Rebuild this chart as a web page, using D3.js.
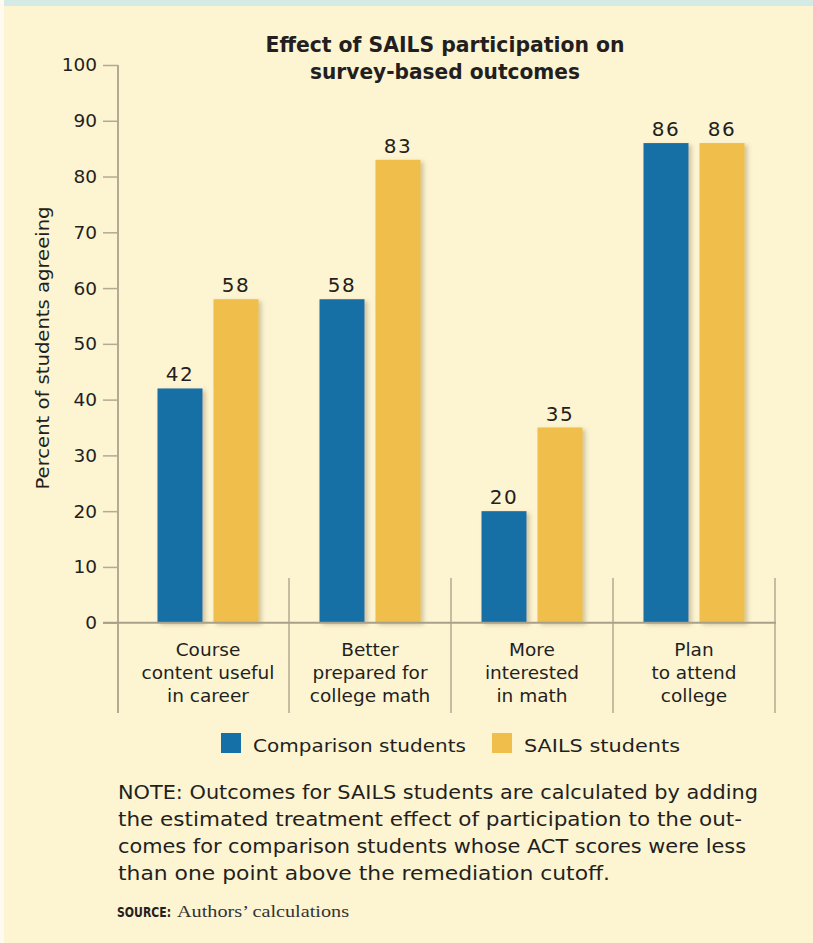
<!DOCTYPE html>
<html>
<head>
<meta charset="utf-8">
<script src="https://cdn.jsdelivr.net/npm/d3@7"></script>
<style>
  html, body { margin: 0; padding: 0; background: #fdf4d2; }
  svg { display: block; }
</style>
</head>
<body>
<svg id="chart" width="813" height="943"></svg>
<script>
// ---- Data ----
const categories = [
  ["Course", "content useful", "in career"],
  ["Better", "prepared for", "college math"],
  ["More", "interested", "in math"],
  ["Plan", "to attend", "college"]
];
const categoryKeys = ["career", "prepared", "interested", "plan"];
const seriesNames = ["Comparison students", "SAILS students"];
const comparisonValues = [42, 58, 20, 86];
const sailsValues = [58, 83, 35, 86];
const yTicks = [0, 10, 20, 30, 40, 50, 60, 70, 80, 90, 100];
const titleLines = ["Effect of SAILS participation on", "survey-based outcomes"];
const yTitle = "Percent of students agreeing";
const noteLines = [
  "NOTE: Outcomes for SAILS students are calculated by adding",
  "the estimated treatment effect of participation to the out-",
  "comes for comparison students whose ACT scores were less",
  "than one point above the remediation cutoff."
];
const sourceLabel = "SOURCE:";
const sourceText = "Authors\u2019 calculations";

// ---- Style ----
const colors = ["#1470a6", "#f0be4b"];
const ink = "#231f20";
const axisColor = "#b3aa92";
const sans = "'DejaVu Sans Condensed', 'DejaVu Sans', sans-serif";
const sansReg = "'DejaVu Sans', 'Noto Sans', sans-serif";

const svg = d3.select("#chart");

// background + top band
svg.append("rect").attr("x", 0).attr("y", 0).attr("width", 813).attr("height", 943).attr("fill", "#fdf4d2");
svg.append("rect").attr("x", 0).attr("y", 0).attr("width", 813).attr("height", 6).attr("fill", "#d4eae5");
svg.append("rect").attr("x", 0).attr("y", 0).attr("width", 4).attr("height", 943).attr("fill", "#fefaf0");

// shadow filter
const defs = svg.append("defs");
const f = defs.append("filter").attr("id", "shadow").attr("x", "-20%").attr("y", "-5%").attr("width", "150%").attr("height", "115%");
f.append("feDropShadow").attr("dx", 3).attr("dy", 2).attr("stdDeviation", 2)
  .attr("flood-color", "#7a6a40").attr("flood-opacity", 0.35);

// ---- Scales ----
const y = d3.scaleLinear().domain([0, 100]).range([622.7, 65]);
const x0 = d3.scaleBand().domain(categoryKeys).range([127, 775]).paddingInner(0).paddingOuter(0);
const x1 = d3.scaleBand().domain(seriesNames).range([0, x0.bandwidth()]).paddingInner(11 / 56).paddingOuter(0.5446);

// ---- Title ----
const titleWidths = [359, 270];
svg.append("g").selectAll("text").data(titleLines).join("text")
  .attr("x", 445).attr("y", (d, i) => 52 + i * 27)
  .attr("text-anchor", "middle")
  .attr("font-family", sans).attr("font-weight", "bold").attr("font-size", 21.5)
  .attr("fill", ink)
  .attr("textLength", (d, i) => titleWidths[i]).attr("lengthAdjust", "spacingAndGlyphs")
  .text(d => d);

// ---- Y axis ----
const yAxisG = svg.append("g").attr("transform", "translate(118,0)")
  .call(d3.axisLeft(y).tickValues(yTicks).tickSize(15).tickPadding(6).tickFormat(d3.format("d")));
yAxisG.select(".domain").remove();
yAxisG.selectAll(".tick line").attr("stroke", axisColor).attr("stroke-width", 1.5);
yAxisG.selectAll(".tick text").attr("font-family", sansReg).attr("font-size", 18.5).attr("fill", ink);
// vertical axis line
svg.append("line").attr("x1", 118).attr("x2", 118).attr("y1", y(100)).attr("y2", 713)
  .attr("stroke", axisColor).attr("stroke-width", 2);

// y title
svg.append("text")
  .attr("transform", "translate(49,348) rotate(-90)")
  .attr("text-anchor", "middle")
  .attr("font-family", sansReg).attr("font-size", 17.5).attr("fill", ink)
  .attr("textLength", 283).attr("lengthAdjust", "spacingAndGlyphs")
  .text(yTitle);

// separators between categories
svg.append("g").selectAll("line").data(categoryKeys).join("line")
  .attr("x1", d => x0(d) + x0.bandwidth()).attr("x2", d => x0(d) + x0.bandwidth())
  .attr("y1", 578).attr("y2", 713)
  .attr("stroke", axisColor).attr("stroke-width", 1.5);

// ---- Bars ----
const rows = categoryKeys.map((k, i) => ({ key: k, values: [comparisonValues[i], sailsValues[i]] }));
const groups = svg.append("g").selectAll("g").data(rows).join("g")
  .attr("transform", d => `translate(${x0(d.key)},0)`);

groups.selectAll("rect").data(d => d.values.map((v, j) => ({ s: seriesNames[j], v, j }))).join("rect")
  .attr("x", d => x1(d.s)).attr("width", x1.bandwidth())
  .attr("y", d => y(d.v)).attr("height", d => y(0) - y(d.v))
  .attr("fill", d => colors[d.j])
  .attr("filter", "url(#shadow)");

groups.selectAll("text.val").data(d => d.values.map((v, j) => ({ s: seriesNames[j], v, j }))).join("text")
  .attr("class", "val")
  .attr("x", d => x1(d.s) + x1.bandwidth() / 2).attr("y", d => y(d.v) - 7)
  .attr("text-anchor", "middle")
  .attr("font-family", sansReg).attr("font-size", 20).attr("fill", ink)
  .attr("letter-spacing", 1.5)
  .text(d => d.v);

// baseline
svg.append("line").attr("x1", 103).attr("x2", 776).attr("y1", y(0)).attr("y2", y(0))
  .attr("stroke", "#a9a089").attr("stroke-width", 2);

// ---- Category labels ----
const catG = svg.append("g").selectAll("text").data(rows).join("text")
  .attr("x", d => x0(d.key) + x0.bandwidth() / 2)
  .attr("text-anchor", "middle")
  .attr("font-family", sansReg).attr("font-size", 18.5).attr("fill", ink);
catG.selectAll("tspan").data((d, i) => categories[i]).join("tspan")
  .attr("x", function () { return d3.select(this.parentNode).attr("x"); })
  .attr("y", (d, i) => 656 + i * 23)
  .text(d => d);

// ---- Legend ----
const legendX = [221, 492];
const legendW = [213, 156];
const legend = svg.append("g").selectAll("g").data(seriesNames).join("g")
  .attr("transform", (d, i) => `translate(${legendX[i]},733)`);
legend.append("rect").attr("width", 20).attr("height", 20).attr("fill", (d, i) => colors[i]);
legend.append("text").attr("x", 32).attr("y", 19)
  .attr("font-family", sansReg).attr("font-size", 18.5).attr("fill", ink)
  .attr("textLength", (d, i) => legendW[i]).attr("lengthAdjust", "spacingAndGlyphs")
  .text(d => d);

// ---- Note ----
const noteWidths = [640, 624, 628, 492];
svg.append("g").selectAll("text").data(noteLines).join("text")
  .attr("x", 118).attr("y", (d, i) => 799 + i * 27)
  .attr("font-family", sans).attr("font-size", 19.5).attr("fill", ink)
  .attr("textLength", (d, i) => noteWidths[i]).attr("lengthAdjust", "spacingAndGlyphs")
  .text(d => d);

// ---- Source ----
svg.append("text").attr("x", 117).attr("y", 917).attr("fill", ink)
  .attr("font-family", sans).attr("font-weight", "bold").attr("font-size", 13.5)
  .attr("textLength", 54).attr("lengthAdjust", "spacingAndGlyphs")
  .text(sourceLabel);
svg.append("text").attr("x", 177).attr("y", 917).attr("fill", "#333")
  .attr("font-family", "'Liberation Serif', serif").attr("font-size", 16)
  .attr("textLength", 172).attr("lengthAdjust", "spacingAndGlyphs")
  .text(sourceText);
</script>
</body>
</html>
